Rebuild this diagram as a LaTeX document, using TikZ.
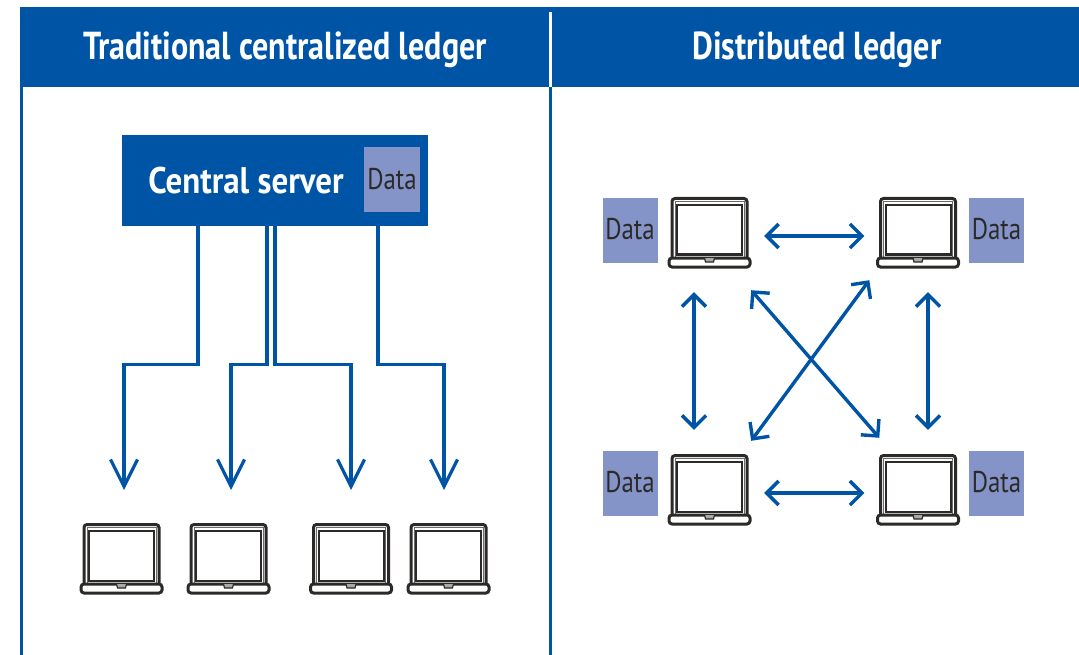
\documentclass[tikz,border=0pt]{standalone}
\usepackage{fontspec}
\setmainfont{PT Sans}
\usetikzlibrary{arrows.meta}
\definecolor{ledgerblue}{HTML}{0054A6}
\definecolor{datablue}{HTML}{8594C8}
\definecolor{inkgrey}{HTML}{2B2A29}
\newcommand{\narrowtext}[2][0.83]{\scalebox{#1}[1]{#2}}
\tikzset{
  laptop/.pic={
    \node [minimum width=83pt,minimum height=71pt,inner sep=0pt] (-box) at (0,0) {};
    \draw [inkgrey,line width=3pt,rounded corners=3pt] (-37.5,25) -- (-37.5,-34) -- (37.5,-34) -- (37.5,25);
    \draw [inkgrey!70,line width=0.8pt] (-34.4,25) -- (-34.4,-31) -- (34.4,-31) -- (34.4,25);
    \draw [inkgrey,line width=2pt] (-32.5,-27.5) rectangle (32.5,22);
    \draw [inkgrey,line width=3pt,rounded corners=3pt] (-40.5,25.5) rectangle (40.5,34.5);
    \draw [inkgrey,line width=1.2pt,fill=inkgrey!40] (-5,25.5) -- (-4,29.5) -- (4,29.5) -- (5,25.5);
  }
}
\begin{document}
\begin{tikzpicture}[x=1pt,y=-1pt,
  head/.style={font=\fontsize{39}{39}\selectfont\bfseries,white,inner sep=0pt},
  databox/.style={fill=datablue,minimum width=55pt,minimum height=65pt,inner sep=0pt},
  datatext/.style={text=inkgrey,inner sep=0pt,font=\fontsize{30}{30}\selectfont},
  flow/.style={-{Straight Barb[length=27pt,width=27pt,line width=3.2pt]},ledgerblue,line width=3.4pt},
  link/.style={{Straight Barb[length=12pt,width=24pt,line width=3.4pt]}-{Straight Barb[length=12pt,width=24pt,line width=3.4pt]},ledgerblue,line width=3.4pt}]
\useasboundingbox (0,0) rectangle (1079,655);
%header band and column rules
\fill [ledgerblue] (20,7) rectangle (1079,87);
\draw [white,line width=3pt] (550,12) -- (550,87);
\draw [ledgerblue,line width=3pt] (21.5,87) -- (21.5,655);
\draw [ledgerblue,line width=3pt] (550,87) -- (550,655);
\node [head] (hleft) at (285,50) {\narrowtext[0.823]{Traditional centralized ledger}};
\node [head] (hright) at (817,50) {\narrowtext[0.823]{Distributed ledger}};
%server
\node [fill=ledgerblue,minimum width=306pt,minimum height=91pt,inner sep=0pt] (server) at (275,180.5) {};
\node [head,font=\fontsize{37}{37}\selectfont\bfseries] (stext) at (246,181) {\narrowtext[0.89]{Central server}};
\node [databox,minimum width=56pt] (sdata) at (392,179.5) {};
\node [datatext] (stag) at (392,178.7) {\narrowtext{Data}};
%laptops
\pic (lap1) at (121.5,558.5) {laptop};
\pic (lap2) at (228.5,558.5) {laptop};
\pic (lap3) at (351,558.5) {laptop};
\pic (lap4) at (448.5,558.5) {laptop};
\pic (lapa) at (709.5,232.5) {laptop};
\pic (lapb) at (918,232.5) {laptop};
\pic (lapc) at (709.5,489.5) {laptop};
\pic (lapd) at (918,489.5) {laptop};
\node [databox] (dataa) at (630,230.5) {};
\node [databox] (datab) at (996.5,230.5) {};
\node [databox] (datac) at (630,483.5) {};
\node [databox] (datad) at (996.5,483.5) {};
\node [datatext] (taga) at (630,228.7) {\narrowtext{Data}};
\node [datatext] (tagb) at (996.5,228.7) {\narrowtext{Data}};
\node [datatext] (tagc) at (630,481.7) {\narrowtext{Data}};
\node [datatext] (tagd) at (996.5,481.7) {\narrowtext{Data}};
%arrows out of the server
\coordinate (end1) at (124,490);
\coordinate (end2) at (231,490);
\coordinate (end3) at (351,490);
\coordinate (end4) at (444,490);
\draw [flow] ([xshift=-77pt]server.south) -- ++(0,138) -| (end1);
\draw [flow] ([xshift=-8pt]server.south) -- ++(0,138) -| (end2);
\draw [flow] (server.south) -- ++(0,138) -| (end3);
\draw [flow] ([xshift=103pt]server.south) -- ++(0,138) -| (end4);
%arrows between the laptops
\draw [link,line width=4.6pt,shorten <=13pt,shorten >=12pt] ([yshift=-3.5pt]lapa-box.east) -- ([yshift=-3.5pt]lapb-box.west);
\draw [link,line width=4.6pt,shorten <=13pt,shorten >=12pt] ([yshift=-3.5pt]lapc-box.east) -- ([yshift=-3.5pt]lapd-box.west);
\draw [link,shorten <=24pt,shorten >=24pt] ([xshift=-15.5pt]lapa-box.south) -- ([xshift=-15.5pt]lapc-box.north);
\draw [link,shorten <=24pt,shorten >=24pt] ([xshift=10pt]lapb-box.south) -- ([xshift=10pt]lapd-box.north);
\draw [link] ([yshift=-22pt]lapa-box.south east) -- ([xshift=3pt,yshift=16pt]lapd-box.north west);
\draw [link] ([xshift=-7pt,yshift=-12pt]lapb-box.south west) -- ([yshift=13pt]lapc-box.north east);
\end{tikzpicture}
\end{document}
